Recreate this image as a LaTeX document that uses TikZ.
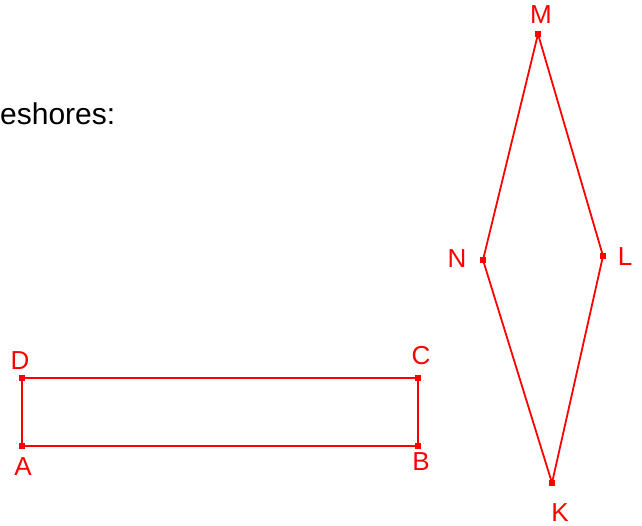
\documentclass[tikz,border=0pt]{standalone}
\usepackage{fontspec}
\setmainfont{Liberation Sans}
\definecolor{geored}{RGB}{255,0,0}
\begin{document}
\begin{tikzpicture}[x=1pt,y=-1pt,
  edge/.style={draw=geored,line width=1.8pt},
  pt/.style={fill=geored,inner sep=0pt,minimum size=6pt,rectangle},
  lbl/.style={text=geored,font=\fontsize{26}{26}\selectfont,inner sep=0pt}]
\useasboundingbox (0,0) rectangle (642,526);
\node[anchor=base west,inner sep=0pt,font=\fontsize{30}{30}\selectfont] (txt) at (0,125) {eshores:};
% rectangle
\coordinate (A) at (22,446);
\coordinate (B) at (418,446);
\coordinate (C) at (418,378);
\coordinate (D) at (22,378);
\draw[edge] (A) -- (B) -- (C) -- (D) -- cycle;
% rhombus
\coordinate (M) at (538,34);
\coordinate (L) at (603,256);
\coordinate (K) at (552,483);
\coordinate (N) at (483,260);
\draw[edge] (M) -- (L) -- (K) -- (N) -- cycle;
\foreach \p in {A,B,C,D,M,L,K,N} \node[pt] at (\p) {};
\node[lbl] (lA) at (23,467) {A};
\node[lbl] (lB) at (421,462) {B};
\node[lbl] (lC) at (421,356) {C};
\node[lbl] (lD) at (20,361) {D};
\node[lbl] (lM) at (541,15) {M};
\node[lbl] (lN) at (457,259) {N};
\node[lbl] (lL) at (625,257) {L};
\node[lbl] (lK) at (560,513) {K};
\end{tikzpicture}
\end{document}
